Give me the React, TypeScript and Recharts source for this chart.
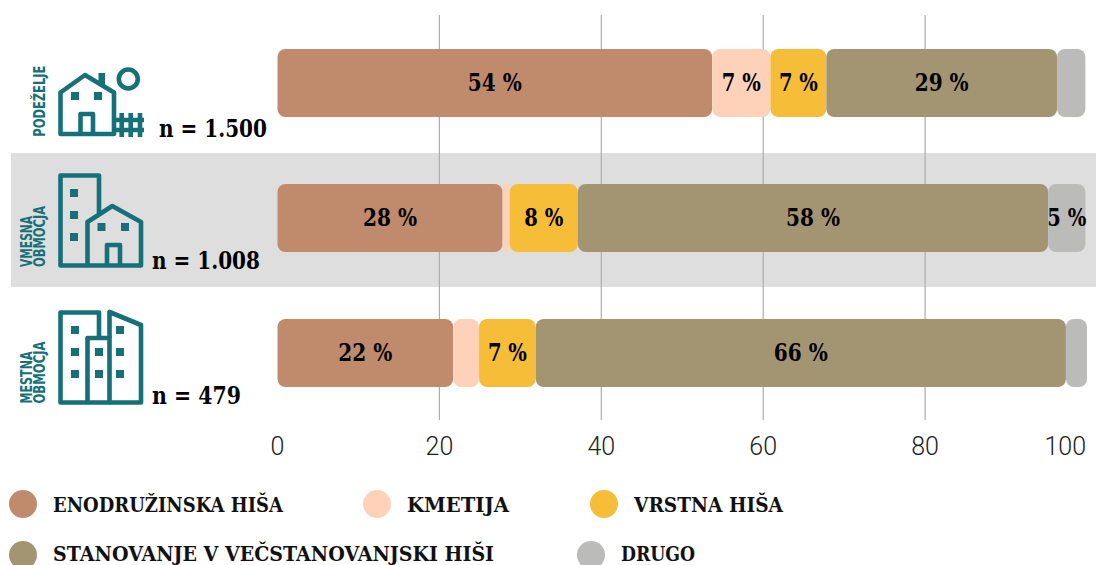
import React from 'react';
import { BarChart, Bar, XAxis, YAxis, CartesianGrid, LabelList } from 'recharts';

const REGIONS = ['Podeželje', 'Vmesna območja', 'Mestna območja'];
const ENODRUZINSKA = [53.7, 27.8, 21.7];
const KMETIJA = [7.2, 0.9, 3.2];
const VRSTNA = [6.9, 8.4, 7.0];
const VECSTANOVANJSKA = [28.5, 58.1, 65.5];
const DRUGO = [3.5, 4.6, 2.6];
const X_TICKS = [0, 20, 40, 60, 80, 100];
const GRID_VALUES = [20, 40, 60, 80];

const SERIES_NAMES = ['ENODRUŽINSKA HIŠA', 'KMETIJA', 'VRSTNA HIŠA', 'STANOVANJE V VEČSTANOVANJSKI HIŠI', 'DRUGO'];
const SERIES_VALUES = [ENODRUZINSKA, KMETIJA, VRSTNA, VECSTANOVANJSKA, DRUGO];
const SERIES_COLORS = ['#C08B6C', '#FDD2B8', '#F6BD38', '#A49572', '#BBBBBA'];

const TEAL = '#16707A';
const SLAB = '"Roboto Slab", "DejaVu Serif", serif';

const data = REGIONS.map((region, i) => {
  const row: Record<string, string | number> = { region };
  SERIES_NAMES.forEach((name, s) => {
    row[name] = SERIES_VALUES[s][i];
  });
  return row;
});

// small segments carry no label in the original
const PercentLabel = ({ x, y, width, height, value }: any) => {
  if (Number(value) < 4.5) return null;
  const text = `${Math.round(Number(value))} %`;
  return (
    <text
      x={x + width / 2}
      y={y + height / 2 + 8}
      textAnchor="middle"
      fontFamily={SLAB}
      fontWeight={700}
      fontSize={24}
      fill="#000"
      textLength={text.length === 4 ? 54 : 39}
      lengthAdjust="spacingAndGlyphs"
    >
      {text}
    </text>
  );
};

const ValueTick = ({ x, y, payload }: any) => (
  <text
    x={payload.value === 100 ? x - 1 : x}
    y={y + 19}
    textAnchor={payload.value === 100 ? 'end' : 'middle'}
    fill="#222"
    fontSize={25}
    fontFamily="Roboto"
    fontWeight={300}
  >
    {payload.value}
  </text>
);

const Squares = ({ xs, ys }: { xs: number[]; ys: number[] }) => (
  <>
    {xs.map((x) => ys.map((y) => <rect key={`${x}-${y}`} x={x} y={y} width={8} height={8} fill={TEAL} />))}
  </>
);

const SideText = ({ x, y, len, text }: { x: number; y: number; len: number; text: string }) => (
  <text
    transform={`translate(${x} ${y}) rotate(-90)`}
    fontFamily='"DejaVu Sans", sans-serif'
    fontWeight={700}
    fontSize={15.5}
    fill={TEAL}
    textLength={len}
    lengthAdjust="spacingAndGlyphs"
  >
    {text}
  </text>
);

const Count = ({ x, y, len, text }: { x: number; y: number; len: number; text: string }) => (
  <text x={x} y={y} fontFamily={SLAB} fontWeight={700} fontSize={25} fill="#000" textLength={len} lengthAdjust="spacingAndGlyphs">
    {text}
  </text>
);

const outline = { fill: 'none', stroke: TEAL, strokeWidth: 4.6, strokeLinejoin: 'round' as const };

const RuralIcon = () => (
  <>
    <path d="M60.5 134 V92.5 L85 75 L114 92.5 V134 Z" {...outline} />
    <rect x={98.5} y={73} width={6.5} height={12} fill={TEAL} />
    <Squares xs={[71, 94]} ys={[92]} />
    <path d="M80.5 134 V114 H93 V134" {...outline} />
    <circle cx={128.3} cy={79} r={9.5} {...outline} />
    <path d="M121.7 113 V137 M130.7 113 V137 M140 113 V137 M115 120 H144 M115 130 H144" {...outline} strokeLinejoin="miter" />
    <SideText x={45} y={136.7} len={71} text="PODEŽELJE" />
    <Count x={159} y={137} len={108} text="n = 1.500" />
  </>
);

const MixedIcon = () => (
  <>
    <path d="M87 265.5 H60.5 V175.5 H99 V213" {...outline} />
    <Squares xs={[70]} ys={[189, 211, 233]} />
    <path d="M87.5 265.5 V222 L112.3 206 L141 222 V265.5 Z" {...outline} />
    <Squares xs={[97.5, 121]} ys={[223]} />
    <path d="M107 265.5 V245 H120 V265.5" {...outline} />
    <SideText x={31.7} y={267} len={51} text="VMESNA" />
    <SideText x={45} y={267} len={61} text="OBMOČJA" />
    <Count x={152} y={269} len={108} text="n = 1.008" />
  </>
);

const UrbanIcon = () => (
  <>
    <path d="M87 402.5 H60.5 V312.5 H99 V337" {...outline} />
    <path d="M87.5 402.5 V338 H109.5 V402.5 Z" {...outline} />
    <path d="M109.5 402.5 H141 V325 L109.5 312 V338" {...outline} />
    <Squares xs={[71, 116]} ys={[326]} />
    <Squares xs={[71, 95, 116]} ys={[348, 370]} />
    <SideText x={31.7} y={403.5} len={52} text="MESTNA" />
    <SideText x={45} y={403.5} len={62} text="OBMOČJA" />
    <Count x={152} y={404} len={89} text="n = 479" />
  </>
);

const ICONS = [RuralIcon, MixedIcon, UrbanIcon];
const ROW_CENTERS = [82.5, 217.5, 352.5];

const RegionTick = ({ y, index }: any) => {
  const Icon = ICONS[index];
  return (
    <g transform={`translate(0 ${y - ROW_CENTERS[index]})`}>
      <Icon />
    </g>
  );
};

const LEGEND_SPOTS = [
  { dot: 23, label: 53, mid: 504, base: 511.5, len: 230 },
  { dot: 377, label: 407, mid: 504, base: 511.5, len: 102 },
  { dot: 604, label: 634, mid: 504, base: 511.5, len: 149 },
  { dot: 23, label: 53, mid: 555, base: 560.5, len: 441 },
  { dot: 591, label: 621, mid: 555, base: 560.5, len: 74 },
];

const LegendRows = () => (
  <svg width={1096} height={565} style={{ position: 'absolute', left: 0, top: 0 }}>
    {SERIES_NAMES.map((name, i) => {
      const spot = LEGEND_SPOTS[i];
      return (
        <g key={name}>
          <circle cx={spot.dot} cy={spot.mid} r={14} fill={SERIES_COLORS[i]} />
          <text
            x={spot.label}
            y={spot.base}
            fontFamily={SLAB}
            fontWeight={700}
            fontSize={19.5}
            fill="#111"
            textLength={spot.len}
            lengthAdjust="spacingAndGlyphs"
          >
            {name}
          </text>
        </g>
      );
    })}
  </svg>
);

export default function App() {
  return (
    <div style={{ position: 'absolute', left: 0, top: 0, width: 1096, height: 565, overflow: 'hidden', background: '#fff' }}>
      <div style={{ position: 'absolute', left: 11, top: 153, width: 1085, height: 134, background: '#DEDEDE' }} />
      <BarChart
        layout="vertical"
        width={1096}
        height={565}
        data={data}
        margin={{ top: 15, right: 9, bottom: 105, left: 0 }}
        style={{ position: 'absolute', left: 0, top: 0 }}
      >
        <CartesianGrid horizontal={false} verticalValues={GRID_VALUES} stroke="#ADADAD" strokeWidth={1.2} />
        <XAxis
          type="number"
          domain={[0, 100]}
          ticks={X_TICKS}
          axisLine={false}
          tickLine={false}
          tickMargin={10}
          height={40}
          interval={0}
          tick={<ValueTick />}
        />
        <YAxis type="category" dataKey="region" width={277.5} axisLine={false} tickLine={false} tick={<RegionTick />} interval={0} />
        {SERIES_NAMES.map((name, i) => (
          <Bar key={name} dataKey={name} stackId="a" fill={SERIES_COLORS[i]} barSize={68} radius={8} isAnimationActive={false}>
            <LabelList dataKey={name} content={<PercentLabel />} />
          </Bar>
        ))}
      </BarChart>
      <LegendRows />
    </div>
  );
}
